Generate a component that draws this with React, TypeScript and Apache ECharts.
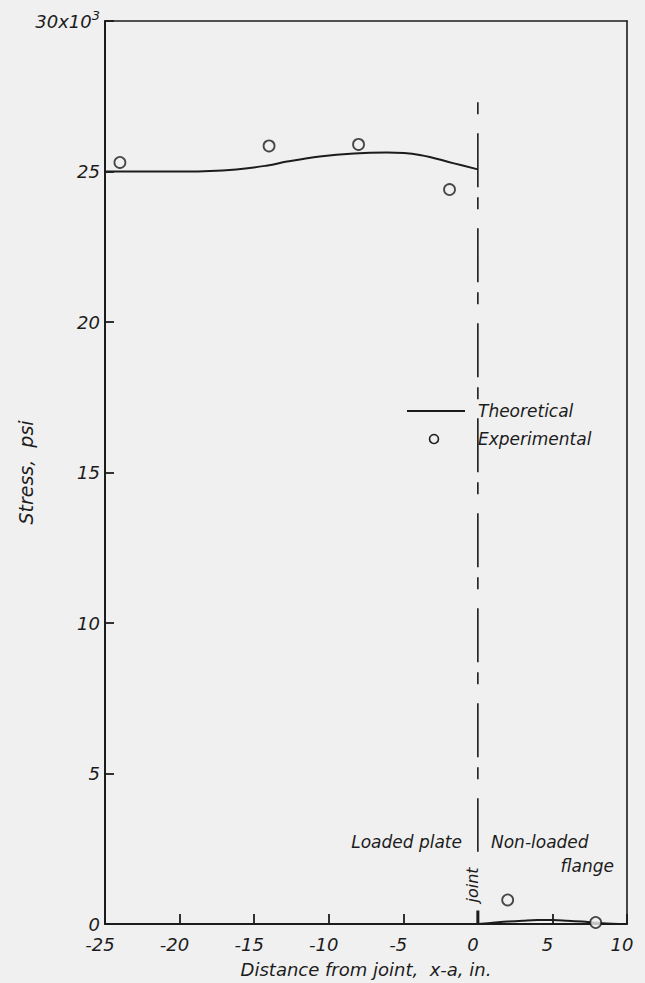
import React, { useEffect, useRef } from "react";
import * as echarts from "echarts";

// Theoretical stress along the loaded plate (x < 0) and the non-loaded flange (x > 0)
const theoryPlateX = [-25, -22, -19.5, -16.2, -14.1, -12.8, -10.6, -8.3, -6.1, -3.9, -1.6, 0];
const theoryPlateY = [25.0, 25.0, 25.0, 25.07, 25.2, 25.33, 25.5, 25.6, 25.63, 25.55, 25.27, 25.07];
const theoryFlangeX = [0, 1, 2, 3, 4, 5, 6, 7, 8, 9, 10];
const theoryFlangeY = [0, 0.04, 0.08, 0.11, 0.13, 0.13, 0.11, 0.08, 0.04, 0.01, 0];

// Measured stresses
const expX = [-24.0, -14.0, -8.0, -1.9, 2.0, 7.9];
const expY = [25.3, 25.85, 25.9, 24.4, 0.8, 0.05];

// Joint position and extent of the dash-dot joint line (stress units)
const jointX = 0;
const jointLineY = [27.3, 2.4];
const jointTickY = [0, 0.45];

const X_MIN = -25;
const X_MAX = 10;
const Y_MIN = 0;
const Y_MAX = 30;
const TICK_STEP = 5;

const INK = "#1c1c1c";
const PAPER = "#f0f0f0";
const FONT = "'DejaVu Sans', 'Liberation Sans', sans-serif";

const zip = (xs: number[], ys: number[]) => xs.map((x, i) => [x, ys[i]]);

export default function App() {
  const ref = useRef<HTMLDivElement>(null);

  useEffect(() => {
    if (!ref.current) return;
    const chart = echarts.init(ref.current, undefined, { renderer: "svg" });

    const textStyle = {
      fontFamily: FONT,
      fontStyle: "italic" as const,
      color: INK,
    };

    // plain frame edges (top / right) without ticks or labels
    const frameAxis = {
      type: "value" as const,
      axisLine: { show: true, onZero: false, lineStyle: { color: INK, width: 1.6 } },
      axisTick: { show: false },
      axisLabel: { show: false },
      splitLine: { show: false },
    };

    chart.setOption({
      animation: false,
      backgroundColor: PAPER,
      grid: {
        left: 105,
        right: 18,
        top: 21,
        bottom: 58,
      },
      xAxis: [
        {
          type: "value",
          position: "bottom",
          min: X_MIN,
          max: X_MAX,
          interval: TICK_STEP,
          name: "Distance from joint,  x-a, in.",
          nameLocation: "middle",
          nameGap: 36,
          nameMoveOverlap: false,
          nameTextStyle: { ...textStyle, fontSize: 18 },
          axisLine: { show: true, onZero: false, lineStyle: { color: INK, width: 2 } },
          axisTick: { show: true, inside: true, length: 10, lineStyle: { color: INK, width: 1.8 } },
          axisLabel: {
            ...textStyle,
            fontSize: 18,
            margin: 11,
            padding: [0, 10, 0, 0],
          },
          splitLine: { show: false },
        },
        { ...frameAxis, position: "top", min: X_MIN, max: X_MAX },
      ],
      yAxis: [
        {
          type: "value",
          position: "left",
          min: Y_MIN,
          max: Y_MAX,
          interval: TICK_STEP,
          name: "Stress,  psi",
          nameLocation: "middle",
          nameGap: 70,
          nameMoveOverlap: false,
          nameTextStyle: { ...textStyle, fontSize: 19 },
          axisLine: { show: true, onZero: false, lineStyle: { color: INK, width: 2 } },
          axisTick: { show: true, inside: true, length: 9, lineStyle: { color: INK, width: 1.8 } },
          axisLabel: {
            ...textStyle,
            fontSize: 18,
            margin: 5,
            formatter: (v: number) => (v === Y_MAX ? `{a|${v}x10}{sup|3}` : String(v)),
            rich: {
              a: { ...textStyle, fontSize: 18 },
              sup: { ...textStyle, fontSize: 13, padding: [0, 0, 12, 0] },
            },
          },
          splitLine: { show: false },
        },
        { ...frameAxis, position: "right", min: Y_MIN, max: Y_MAX },
      ],
      series: [
        {
          name: "Theoretical",
          type: "line",
          data: zip(theoryPlateX, theoryPlateY),
          smooth: 0.4,
          showSymbol: false,
          lineStyle: { color: INK, width: 2 },
          z: 3,
        },
        {
          name: "Theoretical flange",
          type: "line",
          data: zip(theoryFlangeX, theoryFlangeY),
          smooth: 0.4,
          showSymbol: false,
          lineStyle: { color: INK, width: 2 },
          z: 3,
        },
        {
          name: "Joint",
          type: "line",
          data: jointLineY.map((y) => [jointX, y]),
          showSymbol: false,
          lineStyle: { color: INK, width: 1.6, type: [12, 19, 54, 10] },
          z: 2,
        },
        {
          name: "Joint tick",
          type: "line",
          data: jointTickY.map((y) => [jointX, y]),
          showSymbol: false,
          lineStyle: { color: INK, width: 3 },
          z: 2,
        },
        {
          name: "Experimental",
          type: "scatter",
          data: zip(expX, expY),
          symbol: "circle",
          symbolSize: 11,
          itemStyle: { color: PAPER, borderColor: INK, borderWidth: 1.8 },
          clip: false,
          z: 4,
        },
      ],
      graphic: [
        // legend
        {
          type: "line",
          shape: { x1: 407, y1: 411, x2: 465, y2: 411 },
          style: { stroke: INK, lineWidth: 2 },
        },
        {
          type: "circle",
          shape: { cx: 434, cy: 439, r: 4.5 },
          style: { fill: PAPER, stroke: INK, lineWidth: 1.6 },
        },
        {
          type: "text",
          x: 478,
          y: 411,
          style: { ...textStyle, fill: INK, text: "Theoretical", fontSize: 17, verticalAlign: "middle" },
        },
        {
          type: "text",
          x: 478,
          y: 439,
          style: { ...textStyle, fill: INK, text: "Experimental", fontSize: 17, verticalAlign: "middle" },
        },
        // region annotations
        {
          type: "text",
          x: 462,
          y: 842,
          style: { ...textStyle, fill: INK, text: "Loaded plate", fontSize: 17, align: "right", verticalAlign: "middle" },
        },
        {
          type: "text",
          x: 491,
          y: 842,
          style: { ...textStyle, fill: INK, text: "Non-loaded", fontSize: 17, align: "left", verticalAlign: "middle" },
        },
        {
          type: "text",
          x: 614,
          y: 866,
          style: { ...textStyle, fill: INK, text: "flange", fontSize: 17, align: "right", verticalAlign: "middle" },
        },
        {
          type: "text",
          x: 472,
          y: 885,
          rotation: Math.PI / 2,
          style: { ...textStyle, fill: INK, text: "joint", fontSize: 16, align: "center", verticalAlign: "middle" },
        },
      ],
    });

    return () => chart.dispose();
  }, []);

  return (
    <div
      ref={ref}
      style={{ position: "absolute", left: 0, top: 0, width: 645, height: 983, background: PAPER }}
    />
  );
}
